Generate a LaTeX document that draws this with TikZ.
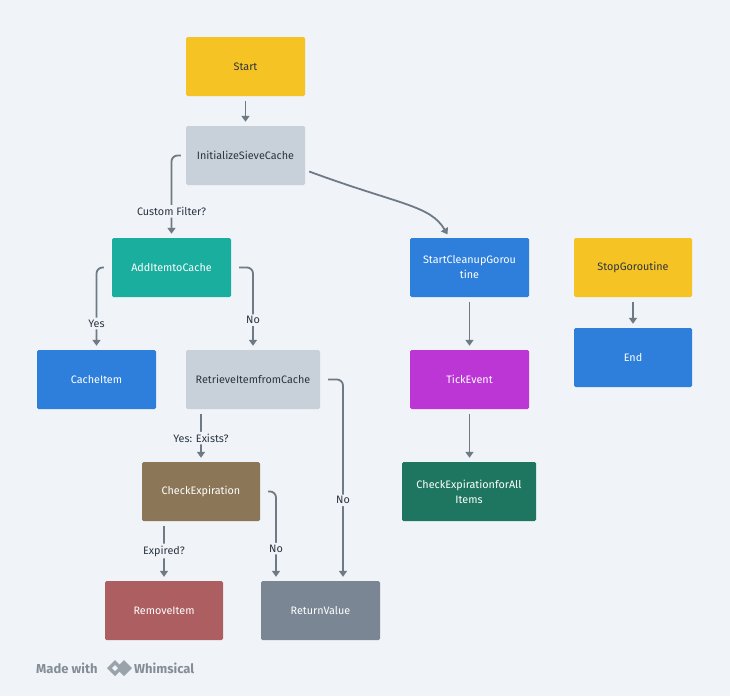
\documentclass[tikz,border=0pt]{standalone}
\usepackage{fontspec}
\setmainfont{Fira Sans}
\usetikzlibrary{arrows.meta}
\definecolor{bg}{HTML}{F0F3F7}
\definecolor{ln}{HTML}{6E7A85}
\definecolor{cyel}{HTML}{F5C324}
\definecolor{cgray}{HTML}{C8D1D9}
\definecolor{cteal}{HTML}{1AAE9F}
\definecolor{cblue}{HTML}{2D7FDB}
\definecolor{cbrown}{HTML}{8B7658}
\definecolor{cred}{HTML}{AD5E60}
\definecolor{cslate}{HTML}{7A8693}
\definecolor{cmag}{HTML}{BC36D6}
\definecolor{cgreen}{HTML}{1E7660}
\definecolor{dtext}{HTML}{2B3540}
\begin{document}
\begin{tikzpicture}[x=1pt,y=-1pt,
  box/.style={rectangle,rounded corners=1.5pt,minimum width=119pt,minimum height=59pt,align=center,
    font=\fontsize{10.8}{15}\selectfont,inner sep=2pt},
  lt/.style={box,text=dtext},
  dk/.style={box,text=white},
  conn/.style={draw=ln,line width=1.8pt,rounded corners=6pt,-{Triangle[length=6pt,width=8pt]},shorten <=5pt,shorten >=4pt},
  lab/.style={fill=bg,font=\fontsize{10.8}{12}\selectfont,text=dtext,inner sep=2pt}]
\fill[bg] (0,0) rectangle (730,696);
\node[lt,fill=cyel] (start) at (245.5,66.5) {Start};
\node[lt,fill=cgray] (init) at (245.5,155.5) {InitializeSieveCache};
\node[dk,fill=cteal] (add) at (171.5,267.5) {AddItemtoCache};
\node[dk,fill=cblue] (cache) at (96.5,379.5) {CacheItem};
\node[lt,fill=cgray,minimum width=134pt] (ret) at (253,379.5) {RetrieveItemfromCache};
\node[dk,fill=cbrown,minimum width=118pt] (chk) at (201,491.5) {CheckExpiration};
\node[dk,fill=cred,minimum width=118pt] (rem) at (164,610.5) {RemoveItem};
\node[dk,fill=cslate] (rv) at (320.5,610.5) {ReturnValue};
\node[dk,fill=cblue] (scg) at (469.5,267.5) {StartCleanupGorou\\tine};
\node[dk,fill=cmag] (tick) at (469.5,379.5) {TickEvent};
\node[dk,fill=cgreen,minimum width=134pt] (all) at (469,491.5) {CheckExpirationforAll\\Items};
\node[lt,fill=cyel,minimum width=118pt] (stop) at (633,267.5) {StopGoroutine};
\node[dk,fill=cblue,minimum width=118pt] (end) at (633,357.5) {End};

\draw[conn] (start) -- (init);
\draw[conn] (init.west) -| node[lab,pos=0.84]{Custom Filter?} (add.north);
\draw[conn,shorten <=0pt] ([xshift=4pt,yshift=-16pt]init.east) .. controls (400,205) and (430,205) .. ([xshift=-20pt]scg.north);
\draw[conn,shorten <=8pt] (add.west) -| node[lab,pos=0.84]{Yes} (cache.north);
\draw[conn,shorten <=8pt] (add.east) -| node[lab,pos=0.82]{No} (ret.north);
\draw[conn] ([xshift=-52pt]ret.south) -- node[lab,pos=0.55]{Yes: Exists?} ([xshift=-52pt]ret.south |- chk.north);
\draw[conn,shorten <=8pt] (ret.east) -| node[lab,pos=0.8]{No} ([xshift=22.5pt]rv.north);
\draw[conn] ([xshift=-37pt]chk.south) -- node[lab,pos=0.5]{Expired?} ([xshift=-37pt]chk.south |- rem.north);
\draw[conn,shorten <=8pt] (chk.east) -| node[lab,pos=0.82]{No} ([xshift=-44.5pt]rv.north);
\draw[conn] (scg) -- (tick);
\draw[conn] (tick) -- ([xshift=0.5pt]all.north);
\draw[conn] (stop) -- (end);

\node[anchor=west,font=\bfseries\fontsize{13}{15}\selectfont,text=ln!85,inner sep=0] (made) at (36,668) {Made with};
\coordinate (lg) at (116,668);
\fill[ln!70] (lg) ++(-9,0) -- ++(8,-8) -- ++(8,8) -- ++(-8,8) -- cycle;
\fill[ln!70] (lg) ++(0,0) -- ++(8,-8) -- ++(8,8) -- ++(-8,8) -- cycle;
\fill[bg] (lg) ++(-4,0) -- ++(3,-3) -- ++(3,3) -- ++(-3,3) -- cycle;
\node[anchor=west,font=\bfseries\fontsize{13}{15}\selectfont,text=ln!85,inner sep=0] (wh) at (134,668) {Whimsical};
\end{tikzpicture}
\end{document}
